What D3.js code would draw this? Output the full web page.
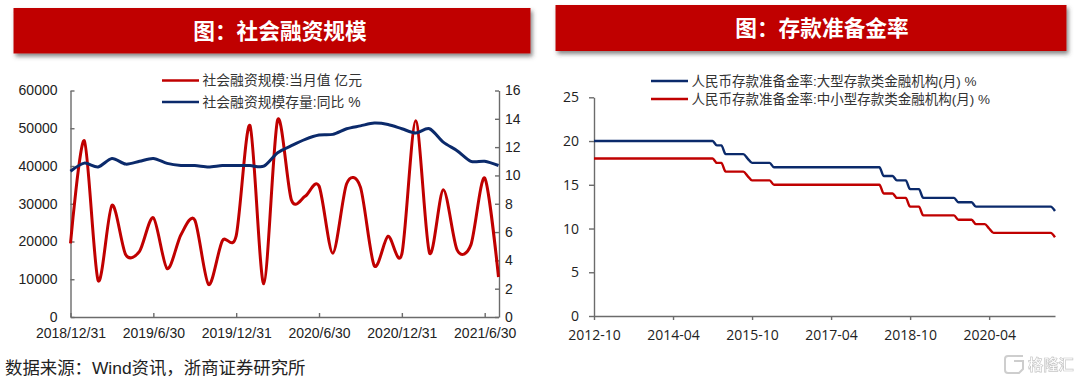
<!DOCTYPE html>
<html lang="zh">
<head>
<meta charset="UTF-8">
<script src="https://d3js.org/d3.v7.min.js"></script>
<style>
  html, body { margin: 0; padding: 0; background: #fff; }
  svg { display: block; }
  text { font-family: "Liberation Sans", "Noto Sans CJK SC", sans-serif; }
  .axis text { fill: #222; }
  .left-chart .axis text { font-family: "Liberation Sans", sans-serif; font-size: 14px; }
  .right-chart .axis text { font-family: "Open Sans", sans-serif; font-size: 14px; }
  .axis path, .axis line { stroke: #6b6b6b; stroke-width: 1.4; }
</style>
</head>
<body>
<div id="fig"></div>
<script>
// left chart, monthly
const socialMonths = ["2018/12/31","2019/1/31","2019/2/28","2019/3/31","2019/4/30","2019/5/31","2019/6/30","2019/7/31",
    "2019/8/31","2019/9/30","2019/10/31","2019/11/30","2019/12/31","2020/1/31","2020/2/29","2020/3/31",
    "2020/4/30","2020/5/31","2020/6/30","2020/7/31","2020/8/31","2020/9/30","2020/10/31","2020/11/30",
    "2020/12/31","2021/1/31","2021/2/28","2021/3/31","2021/4/30","2021/5/31","2021/6/30","2021/7/31"];
const socialFlow = [19500,46700,9700,29600,16500,17400,26300,12800,21800,25700,8600,20200,21500,50700,8800,52200,
    31000,32000,34700,16900,35300,34400,13600,21400,16700,52000,17000,33700,17800,19100,36800,10600];
const socialGrowth = [10.3,10.87,10.6,11.2,10.8,11.0,11.2,10.85,10.7,10.7,10.6,10.7,10.7,10.7,10.65,11.6,
    12.1,12.55,12.85,12.9,13.3,13.5,13.7,13.6,13.3,13.0,13.3,12.35,11.75,11.0,11.0,10.7];
const socialTicks = ["2018/12/31","2019/6/30","2019/12/31","2020/6/30","2020/12/31","2021/6/30"];

// right chart, monthly from 2012-10 to 2021-07
const rrrMonths = ["2012-10","2012-11","2012-12",
    "2013-01","2013-02","2013-03","2013-04","2013-05","2013-06","2013-07","2013-08","2013-09","2013-10","2013-11","2013-12",
    "2014-01","2014-02","2014-03","2014-04","2014-05","2014-06","2014-07","2014-08","2014-09","2014-10","2014-11","2014-12",
    "2015-01","2015-02","2015-03","2015-04","2015-05","2015-06","2015-07","2015-08","2015-09","2015-10","2015-11","2015-12",
    "2016-01","2016-02","2016-03","2016-04","2016-05","2016-06","2016-07","2016-08","2016-09","2016-10","2016-11","2016-12",
    "2017-01","2017-02","2017-03","2017-04","2017-05","2017-06","2017-07","2017-08","2017-09","2017-10","2017-11","2017-12",
    "2018-01","2018-02","2018-03","2018-04","2018-05","2018-06","2018-07","2018-08","2018-09","2018-10","2018-11","2018-12",
    "2019-01","2019-02","2019-03","2019-04","2019-05","2019-06","2019-07","2019-08","2019-09","2019-10","2019-11","2019-12",
    "2020-01","2020-02","2020-03","2020-04","2020-05","2020-06","2020-07","2020-08","2020-09","2020-10","2020-11","2020-12",
    "2021-01","2021-02","2021-03","2021-04","2021-05","2021-06","2021-07"];
const rrrLarge = [20,20,20,
    20,20,20,20,20,20,20,20,20,20,20,20,
    20,20,20,20,20,20,20,20,20,20,20,20,
    20,19.5,19.5,18.5,18.5,18.5,18.5,18.5,18,17.5,17.5,17.5,
    17.5,17.5,17,17,17,17,17,17,17,17,17,17,
    17,17,17,17,17,17,17,17,17,17,17,17,
    17,17,17,16,16,16,15.5,15.5,15.5,14.5,14.5,14.5,
    13.5,13.5,13.5,13.5,13.5,13.5,13.5,13.5,13,13,13,13,
    12.5,12.5,12.5,12.5,12.5,12.5,12.5,12.5,12.5,12.5,12.5,12.5,
    12.5,12.5,12.5,12.5,12.5,12.5,12];
const rrrSmall = [18,18,18,
    18,18,18,18,18,18,18,18,18,18,18,18,
    18,18,18,18,18,18,18,18,18,18,18,18,
    18,17.5,17.5,16.5,16.5,16.5,16.5,16.5,16,15.5,15.5,15.5,
    15.5,15.5,15,15,15,15,15,15,15,15,15,15,
    15,15,15,15,15,15,15,15,15,15,15,15,
    15,15,15,14,14,14,13.5,13.5,13.5,12.5,12.5,12.5,
    11.5,11.5,11.5,11.5,11.5,11.5,11.5,11.5,11,11,11,11,
    10.5,10.5,10.5,10,9.5,9.5,9.5,9.5,9.5,9.5,9.5,9.5,
    9.5,9.5,9.5,9.5,9.5,9.5,9];
const rrrTicks = ["2012-10","2014-04","2015-10","2017-04","2018-10","2020-04"];

const red = "#C00000", navy = "#0B2A6B";

const svg = d3.select("#fig").append("svg").attr("width",1080).attr("height",381);

const shadow = svg.append("defs").append("filter").attr("id","shadow")
    .attr("x","-2%").attr("y","-20%").attr("width","104%").attr("height","150%");
shadow.append("feDropShadow").attr("dx",2).attr("dy",3).attr("stdDeviation",2)
    .attr("flood-color","#444").attr("flood-opacity",0.65);

function banner(x,y,w,h,title,cx){
    svg.append("rect").attr("x",x).attr("y",y).attr("width",w).attr("height",h)
        .attr("fill",red).attr("filter","url(#shadow)");
    svg.append("text").attr("x",cx).attr("y",y+h/2+8)
        .attr("text-anchor","middle").attr("fill","#fff")
        .style("font-family","'Noto Sans CJK SC'")
        .style("font-size","21.7px").style("font-weight",700).text(title);
}
banner(13.5,8,517,45.5,"图：社会融资规模",280);
banner(555.5,5,511,46,"图：存款准备金率",822);

function legendRow(g,x1,x2,y,colour,label,size){
    g.append("line").attr("x1",x1).attr("x2",x2).attr("y1",y).attr("y2",y)
        .attr("stroke",colour).attr("stroke-width",2.6);
    g.append("text").attr("x",x2+3.5).attr("y",y+4.8).attr("fill","#333")
        .style("font-size",size).text(label);
}

// ---- left chart
const left = svg.append("g").attr("class","left-chart");
const x1 = d3.scalePoint().domain(socialMonths).range([70.5,498.5]);
const yFlow = d3.scaleLinear().domain([0,60000]).range([317,90.5]);
const yGrowth = d3.scaleLinear().domain([0,16]).range([317,90.5]);

left.append("g").attr("class","axis").attr("transform","translate(0,317)")
    .call(d3.axisBottom(x1).tickValues(socialTicks).tickSizeInner(-4).tickSizeOuter(0).tickPadding(11));
left.append("g").attr("class","axis").attr("transform","translate(70.5,0)")
    .call(d3.axisLeft(yFlow).ticks(6).tickFormat(d3.format("d")).tickSizeInner(-4).tickSizeOuter(0).tickPadding(13));
left.append("g").attr("class","axis").attr("transform","translate(499,0)")
    .call(d3.axisRight(yGrowth).ticks(8).tickSizeInner(-4).tickSizeOuter(0).tickPadding(6));

const smooth = d3.curveCardinal.tension(0.15);
left.append("path").attr("fill","none").attr("stroke",red).attr("stroke-width",3)
    .attr("d",d3.line().x((d,i)=>x1(socialMonths[i])).y(d=>yFlow(d)).curve(smooth)(socialFlow));
left.append("path").attr("fill","none").attr("stroke",navy).attr("stroke-width",3)
    .attr("d",d3.line().x((d,i)=>x1(socialMonths[i])).y(d=>yGrowth(d)).curve(smooth)(socialGrowth));

legendRow(left,162,199,80.5,red,"社会融资规模:当月值 亿元","13.8px");
legendRow(left,162,199,102,navy,"社会融资规模存量:同比 %","13.8px");

// ---- right chart
const right = svg.append("g").attr("class","right-chart");
const x2 = d3.scalePoint().domain(rrrMonths).range([594,1055]);
const yRate = d3.scaleLinear().domain([0,25]).range([316,97.3]);

right.append("g").attr("class","axis").attr("transform","translate(0,316)")
    .call(d3.axisBottom(x2).tickValues(rrrTicks).tickSizeInner(4).tickSizeOuter(0).tickPadding(10));
right.append("g").attr("class","axis").attr("transform","translate(594,0)")
    .call(d3.axisLeft(yRate).ticks(5).tickSizeInner(5).tickSizeOuter(0).tickPadding(10));

[[rrrLarge,navy],[rrrSmall,red]].forEach(([values,colour])=>{
    right.append("path").attr("fill","none").attr("stroke",colour).attr("stroke-width",2.4)
        .attr("d",d3.line().x((d,i)=>x2(rrrMonths[i])).y(d=>yRate(d)).curve(d3.curveMonotoneX)(values));
});

legendRow(right,651,688,81,navy,"人民币存款准备金率:大型存款类金融机构(月) %","13.5px");
legendRow(right,651,688,99,red,"人民币存款准备金率:中小型存款类金融机构(月) %","13.5px");

// source line
svg.append("text").attr("x",5).attr("y",373.5).attr("fill","#222")
    .style("font-size","17.4px").text("数据来源：Wind资讯，浙商证券研究所");

// watermark
const mark = svg.append("g").attr("opacity",0.75);
mark.append("path").attr("fill","none").attr("stroke","#bdbdbd").attr("stroke-width",2)
    .attr("d","M1023 356H1008q-3 0-3 3v11q0 3 3 3H1019l4-4v-8h-9");
mark.append("text").attr("x",1028).attr("y",370).attr("fill","#fff").attr("stroke","#b5b5b5")
    .attr("stroke-width",0.7).style("font-size","15.2px").style("font-weight",700).text("格隆汇");
</script>
</body>
</html>
